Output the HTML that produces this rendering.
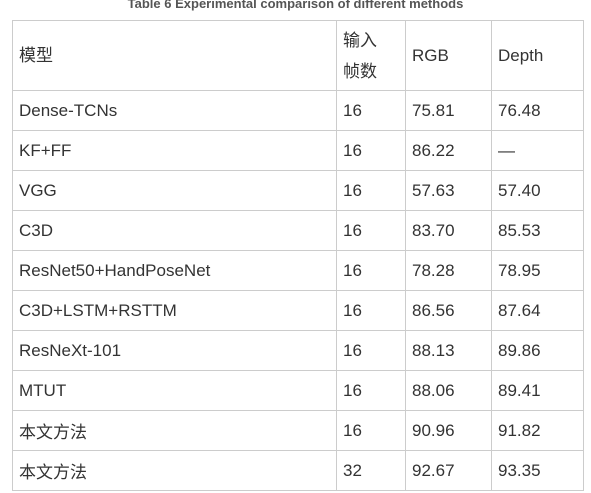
<!DOCTYPE html>
<html><head><meta charset="utf-8"><style>
body{margin:0;width:591px;height:493px;background:#fff;overflow:hidden;position:relative;font-family:"Liberation Sans","Noto Sans CJK SC",sans-serif;}
.title{position:absolute;left:0;width:591px;top:-4px;text-align:center;font-weight:bold;font-size:13px;color:#555;}
table{position:absolute;left:12px;top:20px;border-collapse:collapse;font-size:17px;color:#333;}
td{border:1px solid #ccc;padding:0 0 0 6px;height:39px;vertical-align:middle;}
tr.h td{height:69px;line-height:31px;}
</style></head><body>
<div class="title">Table 6 Experimental comparison of different methods</div>
<table>
<colgroup><col style="width:324px"><col style="width:69px"><col style="width:86px"><col style="width:92px"></colgroup>
<tr class="h"><td>模型</td><td>输入<br>帧数</td><td>RGB</td><td>Depth</td></tr>
<tr><td>Dense-TCNs</td><td>16</td><td>75.81</td><td>76.48</td></tr>
<tr><td>KF+FF</td><td>16</td><td>86.22</td><td>—</td></tr>
<tr><td>VGG</td><td>16</td><td>57.63</td><td>57.40</td></tr>
<tr><td>C3D</td><td>16</td><td>83.70</td><td>85.53</td></tr>
<tr><td>ResNet50+HandPoseNet</td><td>16</td><td>78.28</td><td>78.95</td></tr>
<tr><td>C3D+LSTM+RSTTM</td><td>16</td><td>86.56</td><td>87.64</td></tr>
<tr><td>ResNeXt-101</td><td>16</td><td>88.13</td><td>89.86</td></tr>
<tr><td>MTUT</td><td>16</td><td>88.06</td><td>89.41</td></tr>
<tr><td>本文方法</td><td>16</td><td>90.96</td><td>91.82</td></tr>
<tr><td>本文方法</td><td>32</td><td>92.67</td><td>93.35</td></tr>
</table>
</body></html>
